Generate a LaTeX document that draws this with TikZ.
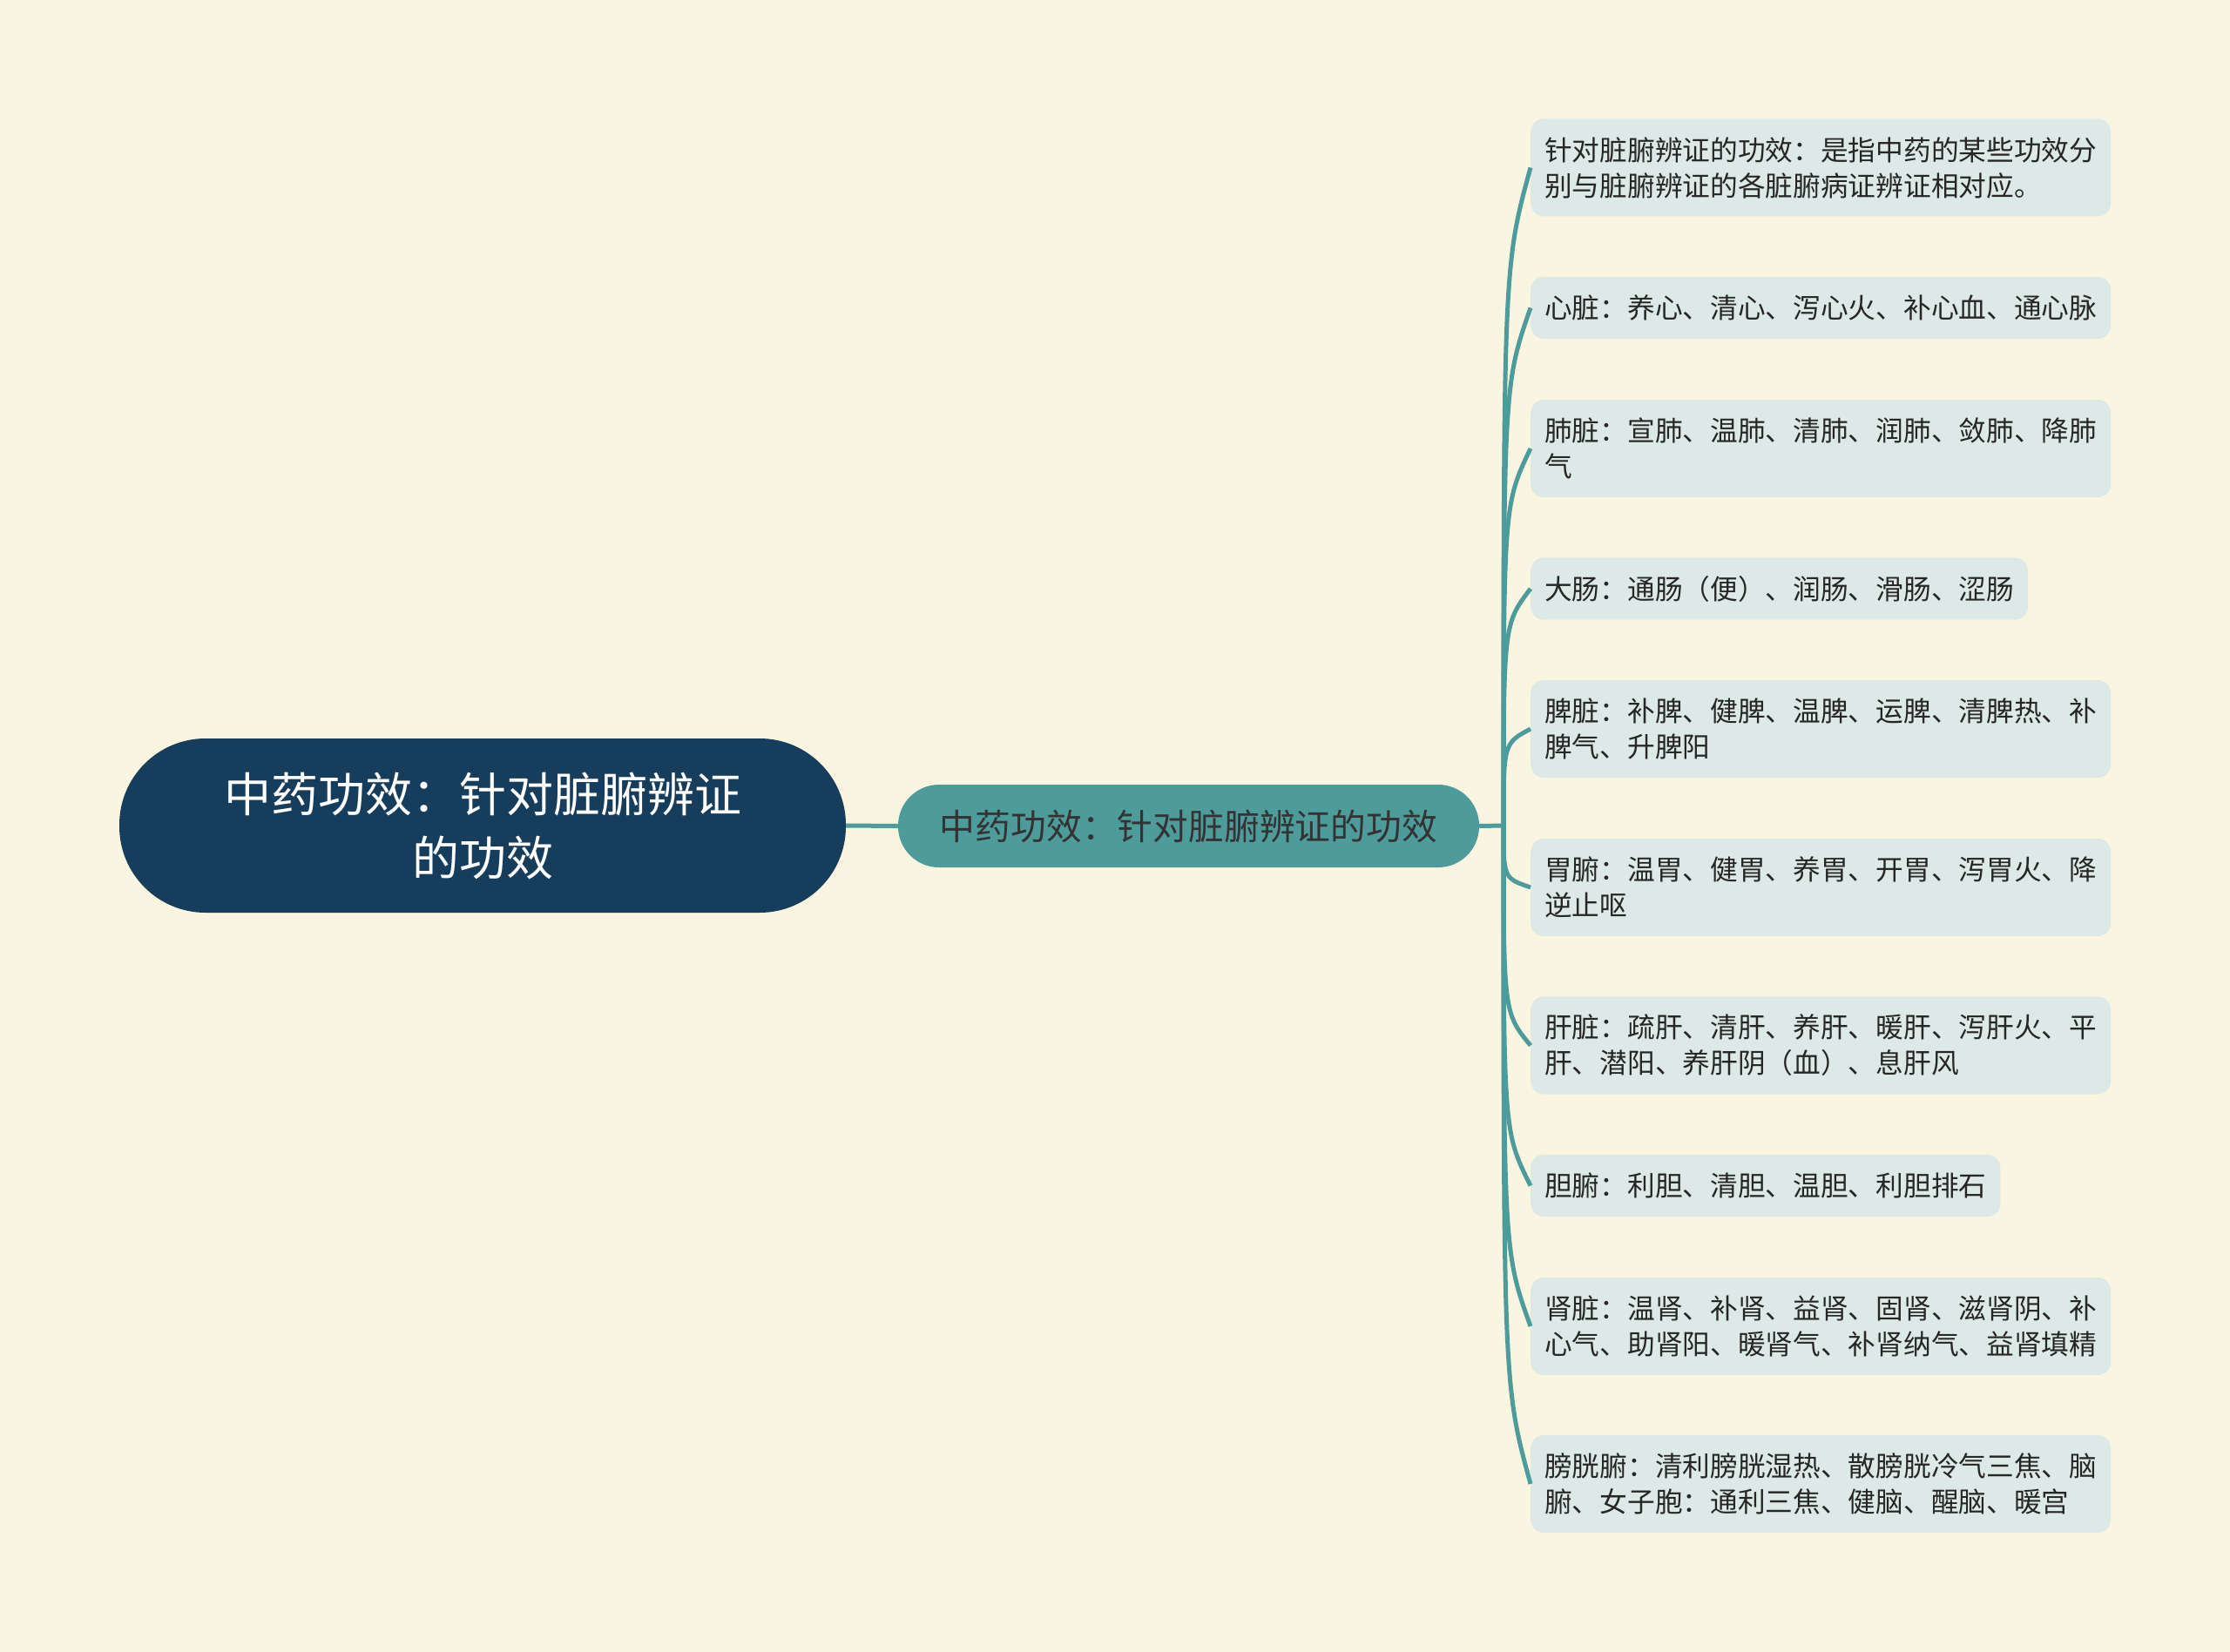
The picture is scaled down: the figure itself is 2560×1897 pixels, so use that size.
\documentclass[tikz,border=0pt]{standalone}
\usepackage{fontspec}
\setmainfont{Noto Sans CJK SC}
\usepackage{tikz}
\usepackage{xcolor}
\usetikzlibrary{calc}

\definecolor{bgcream}{HTML}{FAF5E0}
\definecolor{rootblue}{HTML}{173D5C}
\definecolor{subteal}{HTML}{4E9B9B}
\definecolor{leaffill}{HTML}{DCE9E7}
\definecolor{linkteal}{HTML}{4E9B9B}

\begin{document}
\begin{tikzpicture}[
    x=1pt,
    y=-1pt,
    rootnode/.style={fill=rootblue,text=white,rounded corners=99pt,minimum width=834pt,minimum height=200pt,align=center,font=\fontsize{54}{73}\selectfont},
    subnode/.style={fill=subteal,text=black!80,rounded corners=47pt,minimum width=667pt,minimum height=95pt,font=\fontsize{40.8}{48}\selectfont},
    leafbase/.style={fill=leaffill,text=black!85,rounded corners=15pt,anchor=west,align=left,inner xsep=16pt,inner ysep=6pt,font=\fontsize{31.7}{41}\selectfont},
    leaf/.style={leafbase,text width=634pt,minimum height=#1},
    leaf/.default=112pt,
    leafshort/.style={leafbase,minimum height=71pt},
    link/.style={draw=linkteal,line width=5pt}
]

% Background and page frame.
\fill[bgcream] (0,0) rectangle (2560,1897);

% Root and main branch.
\node[rootnode] (root) at (554,948) {中药功效：针对脏腑辨证\\的功效};
\node[subnode] (sub) at (1364.5,948.5) {中药功效：针对脏腑辨证的功效};
\coordinate (hub) at (1726,948);

% Leaves.
\node[leaf] (l1) at (1757,192.5) {针对脏腑辨证的功效：是指中药的某些功效分\\别与脏腑辨证的各脏腑病证辨证相对应。};
\node[leaf=71pt] (l2) at (1757,353.5) {心脏：养心、清心、泻心火、补心血、通心脉};
\node[leaf] (l3) at (1757,515) {肺脏：宣肺、温肺、清肺、润肺、敛肺、降肺\\气};
\node[leafshort] (l4) at (1757,676) {大肠：通肠（便）、润肠、滑肠、涩肠};
\node[leaf] (l5) at (1757,837) {脾脏：补脾、健脾、温脾、运脾、清脾热、补\\脾气、升脾阳};
\node[leaf] (l6) at (1757,1019) {胃腑：温胃、健胃、养胃、开胃、泻胃火、降\\逆止呕};
\node[leaf] (l7) at (1757,1200.5) {肝脏：疏肝、清肝、养肝、暖肝、泻肝火、平\\肝、潜阳、养肝阴（血）、息肝风};
\node[leafshort] (l8) at (1757,1361.5) {胆腑：利胆、清胆、温胆、利胆排石};
\node[leaf] (l9) at (1757,1523) {肾脏：温肾、补肾、益肾、固肾、滋肾阴、补\\心气、助肾阳、暖肾气、补肾纳气、益肾填精};
\node[leaf] (l10) at (1757,1704) {膀胱腑：清利膀胱湿热、散膀胱冷气三焦、脑\\腑、女子胞：通利三焦、健脑、醒脑、暖宫};

% Connectors.
\draw[link] (root.east) -- (sub.west);
\draw[link] (sub.east) -- (hub);
\foreach \n in {1,...,10} {
    \draw[link] (hub) .. controls ($(hub)!0.85!(hub |- l\n.west)$) .. (l\n.west);
}

\end{tikzpicture}
\end{document}
